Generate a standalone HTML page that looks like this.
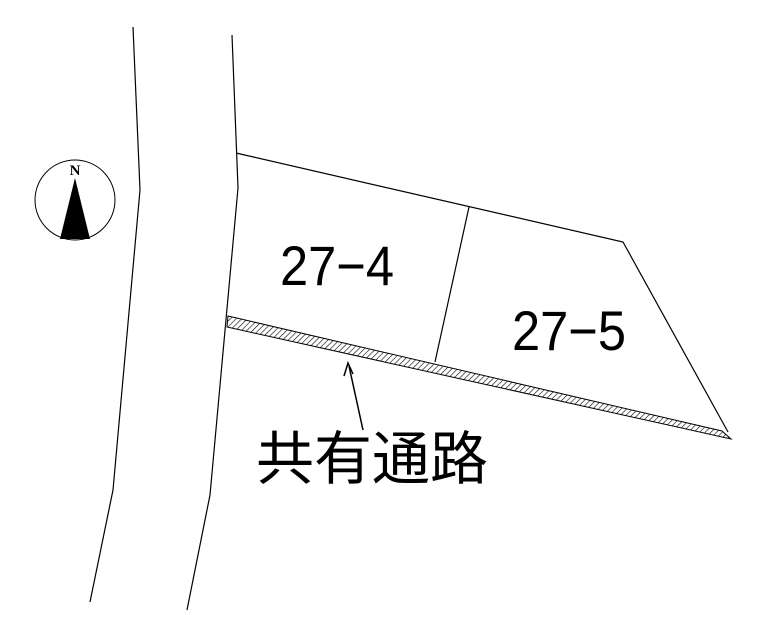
<!DOCTYPE html>
<html><head><meta charset="utf-8"><style>
html,body{margin:0;padding:0;background:#fff;}
svg{display:block;}
text{font-family:"Liberation Sans","Noto Sans CJK JP",sans-serif;fill:#000;}
</style></head><body>
<svg width="765" height="638" viewBox="0 0 765 638" xmlns="http://www.w3.org/2000/svg">
<defs>
<pattern id="h" width="4" height="4" patternUnits="userSpaceOnUse" patternTransform="rotate(45)">
<line x1="0" y1="0" x2="0" y2="4" stroke="#000" stroke-width="1.2"/>
</pattern>
</defs>
<g fill="none" stroke="#000" stroke-width="1.2">
<polyline points="133,27 140,190 113,490 90,602"/>
<polyline points="232,35 238,188 210,495 187,610"/>
<polyline points="236,153 623,242 728,432"/>
<line x1="469" y1="207" x2="435" y2="362"/>
</g>
<polygon points="228,316 722,431 731,439 227,327" fill="url(#h)" stroke="#000" stroke-width="1"/>
<line x1="363" y1="430" x2="349" y2="366" stroke="#000" stroke-width="1.5"/>
<polyline points="344,376 348,363 353,374" fill="none" stroke="#000" stroke-width="1.5"/>
<circle cx="75" cy="200" r="40" fill="none" stroke="#000" stroke-width="1"/>
<polygon points="75,178 60,239 90,239" fill="#000"/>
<text x="75" y="175" font-size="15" font-weight="bold" text-anchor="middle" style="font-family:'Liberation Serif',serif">N</text>
<text x="280" y="285" font-size="56" textLength="114" lengthAdjust="spacingAndGlyphs">27−4</text>
<text x="512" y="350" font-size="56" textLength="114" lengthAdjust="spacingAndGlyphs">27−5</text>
<text x="256" y="479" font-size="58" textLength="232" lengthAdjust="spacingAndGlyphs">共有通路</text>
</svg>
</body></html>
